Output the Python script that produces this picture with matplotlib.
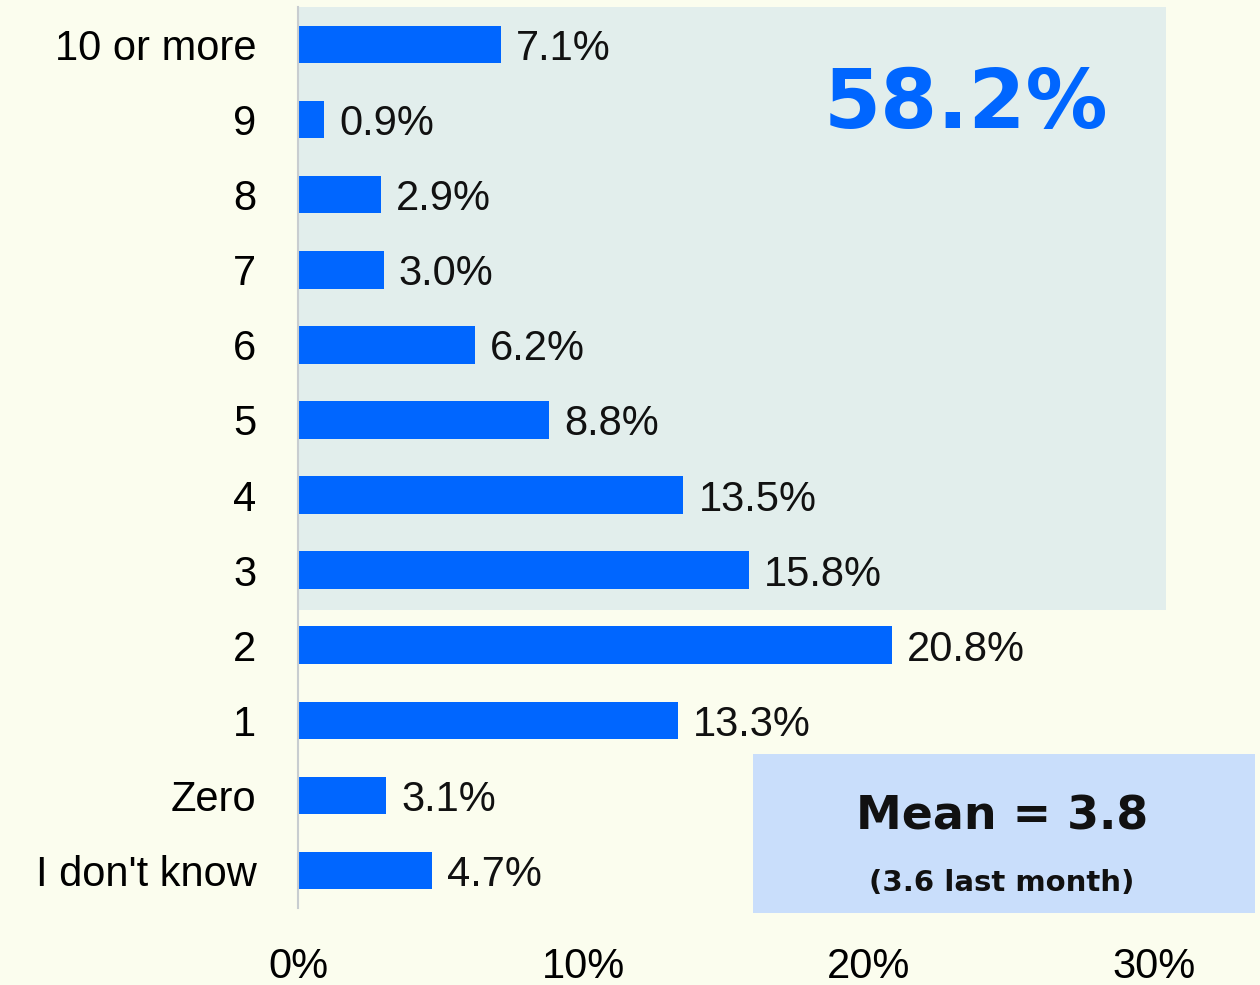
import matplotlib.pyplot as plt
from matplotlib.patches import Rectangle

# survey answers, bottom to top
categories = ["I don't know", 'Zero', '1', '2', '3', '4', '5', '6', '7', '8', '9', '10 or more']
shares = [4.7, 3.1, 13.3, 20.8, 15.8, 13.5, 8.8, 6.2, 3.0, 2.9, 0.9, 7.1]
xticks = [0, 10, 20, 30]
highlight_total = '58.2%'
mean_text = 'Mean = 3.8'
mean_note = '(3.6 last month)'

bg = '#fbfdee'
shade = '#e2eeec'
bar_color = '#0066ff'
mean_box = '#c9defb'

plt.rcParams['font.family'] = ['Liberation Sans', 'DejaVu Sans']

fig = plt.figure(figsize=(12.6, 9.85), dpi=100, facecolor=bg)
ax = fig.add_axes([298 / 1260, 77 / 985, 962 / 1260, 901 / 985])
ax.set_facecolor(bg)

y = list(range(len(categories)))

# shaded block behind the rows "3" and up
ax.add_patch(Rectangle((0, 3.47), 30.4, 8.1, facecolor=shade, edgecolor='none', zorder=0))

ax.barh(y, shares, height=0.5, color=bar_color, zorder=2)
for yi, v in zip(y, shares):
    ax.annotate(f'{v:.1f}%', (v, yi), xytext=(11, 0), textcoords='offset points',
                va='center_baseline', ha='left', fontsize=30, color='#111111')

ax.set_xlim(0, 33.7)
ax.set_ylim(-0.5, 11.5)
ax.set_yticks(y)
ax.set_yticklabels(categories, fontsize=30)
ax.set_xticks(xticks)
ax.set_xticklabels([f'{t}%' for t in xticks], fontsize=30)
ax.tick_params(axis='y', length=0, pad=30)
ax.tick_params(axis='x', length=0, pad=28)

for s in ['top', 'right', 'bottom']:
    ax.spines[s].set_visible(False)
ax.spines['left'].set_color('#c8cdd0')
ax.spines['left'].set_linewidth(1.5)
ax.spines['left'].set_zorder(3)

ax.text(23.4, 10.19, highlight_total, fontsize=59, fontweight='bold', family='DejaVu Sans',
        color=bar_color, ha='center', va='center')

# mean box, bottom right
ax.add_patch(Rectangle((15.94, -0.56), 17.6, 2.11, facecolor=mean_box, edgecolor='none',
                       zorder=1, clip_on=False))
ax.text(24.65, 0.71, mean_text, fontsize=33, fontweight='bold', family='DejaVu Sans',
        color='#111111', ha='center', va='center')
ax.text(24.65, -0.17, mean_note, fontsize=21, fontweight='bold', family='DejaVu Sans',
        color='#111111', ha='center', va='center')

fig.savefig('out.png', dpi=100, facecolor=bg)
